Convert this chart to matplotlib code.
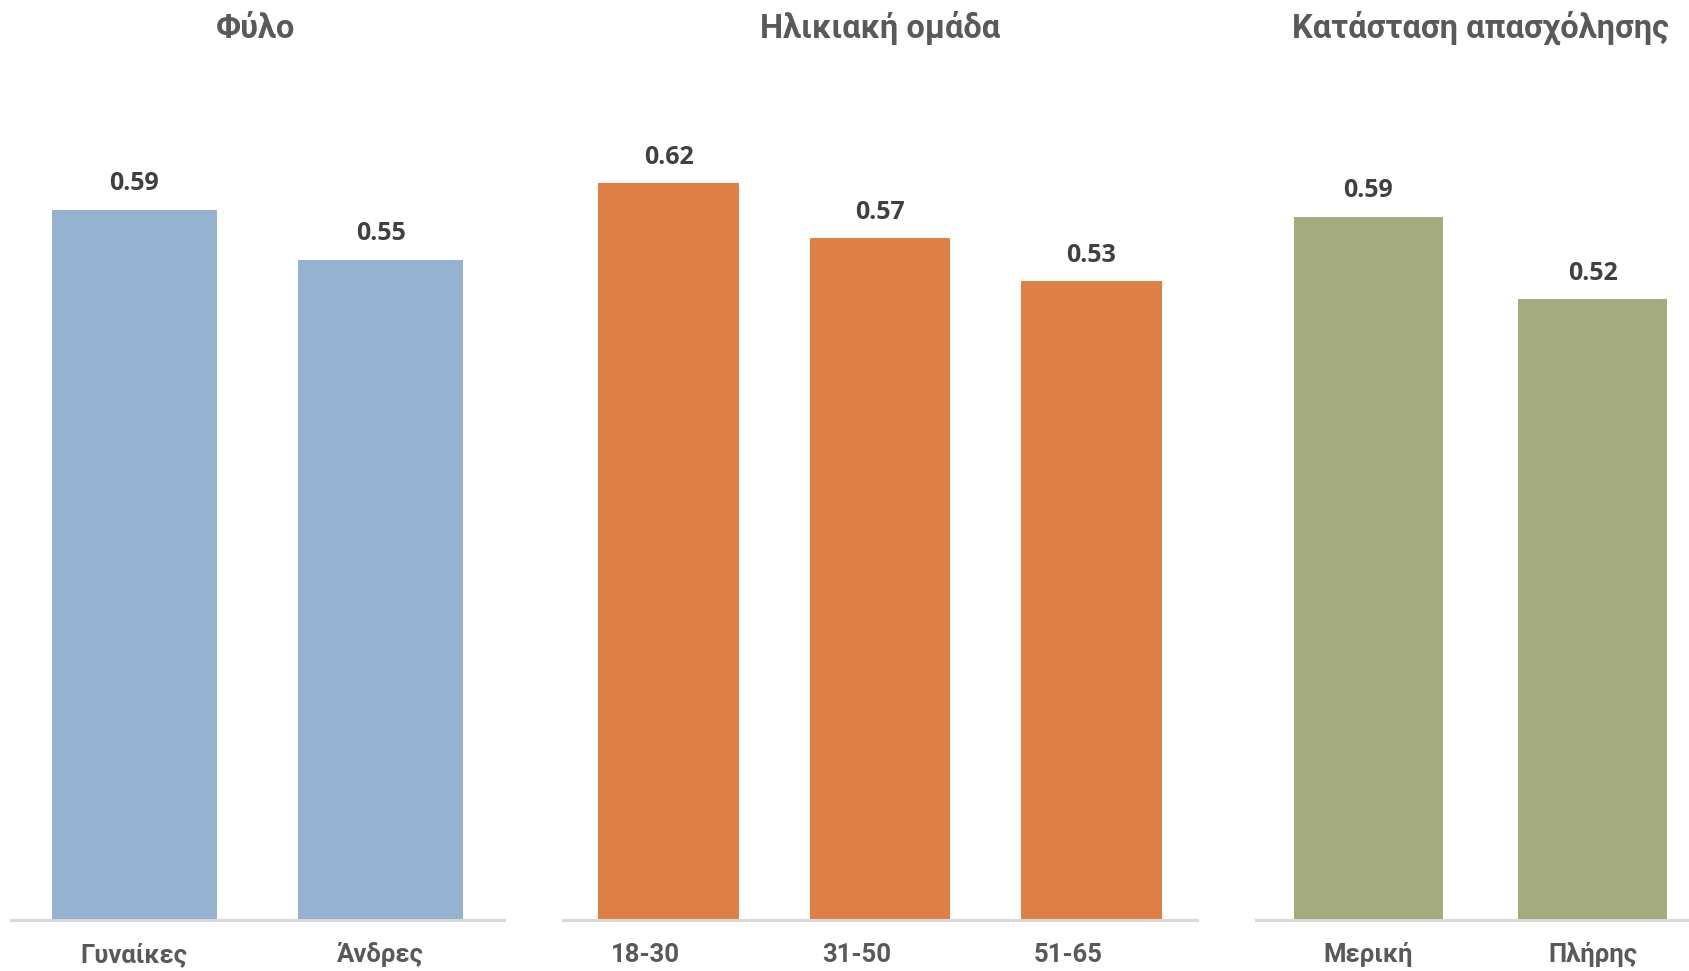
import matplotlib
matplotlib.use("Agg")
import matplotlib.pyplot as plt

# data (shown rounded to 2 decimals, bar heights)
gender_labels = ["Γυναίκες", "Άνδρες"]
gender_values = [0.594, 0.552]
age_labels = ["18-30", "31-50", "51-65"]
age_values = [0.616, 0.570, 0.534]
work_labels = ["Μερική", "Πλήρης"]
work_values = [0.588, 0.519]
panel_titles = ["Φύλο", "Ηλικιακή ομάδα", "Κατάσταση απασχόλησης"]

W, H = 1690, 971
plt.rcParams["font.family"] = ["Roboto", "Open Sans", "DejaVu Sans"]

fig = plt.figure(figsize=(W / 100, H / 100), dpi=100)

# (left px, width px, bar width, color, title centre px, label x shift pt)
panels = [
    (gender_labels, gender_values, 11, 493, 0.67, "#95B3D1", 256, 0),
    (age_labels, age_values, 563, 634, 0.665, "#DE8046", 880, -16.5),
    (work_labels, work_values, 1256, 449, 0.665, "#A5AB80", 1480, 0),
]

base_px = 920
ytop = 0.7023
for (labels, values, left, width, bw, color, tx, dx), title in zip(panels, panel_titles):
    ax = fig.add_axes([left / W, 1 - base_px / H, width / W, 840 / H])
    x = list(range(len(values)))
    ax.bar(x, values, width=bw, color=color)
    ax.set_xlim(-0.5, len(values) - 0.5)
    ax.set_ylim(0, ytop)
    for s in ["top", "left", "right"]:
        ax.spines[s].set_visible(False)
    ax.spines["bottom"].set_color("#D9D9D9")
    ax.spines["bottom"].set_linewidth(2.2)
    ax.set_yticks([])
    ax.set_xticks([])
    for xi, v, lab in zip(x, values, labels):
        ax.annotate(f"{v:.2f}", (xi, v), xytext=(0, 14), textcoords="offset points",
                    ha="center", va="baseline", fontsize=18, fontweight="bold",
                    color="#404040", family=["Open Sans", "DejaVu Sans"])
        ax.annotate(lab, (xi, 0), xytext=(dx, -30), textcoords="offset points",
                    ha="center", va="baseline", fontsize=18.5, fontweight="bold",
                    color="#595959", annotation_clip=False)
    fig.text(tx / W, 1 - 38 / H, title, ha="center", va="baseline",
             fontsize=23.5, fontweight="bold", color="#595959")

fig.savefig("out.png", dpi=100)
